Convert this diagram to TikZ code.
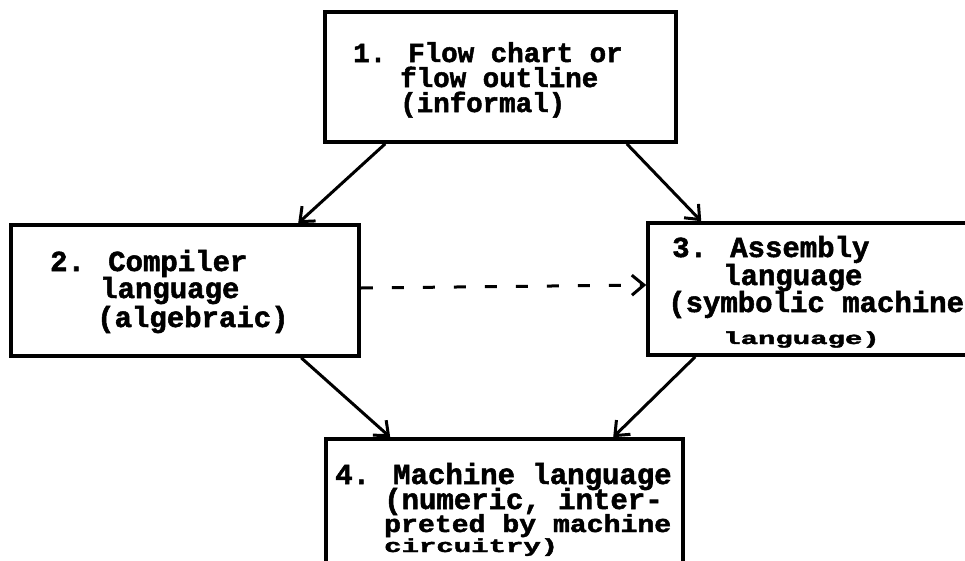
\documentclass[tikz,border=0pt]{standalone}
\usepackage{fontspec}
\newfontfamily\tw[FakeBold=1.8]{Liberation Mono}
\usetikzlibrary{arrows.meta,calc}
\begin{document}
\begin{tikzpicture}[x=1pt,y=-1pt,
  box/.style={draw=black, line width=3.6pt, rectangle, inner sep=0pt},
  txt/.style={anchor=base west, inner sep=0pt, text=black},
  conn/.style={draw=black, line width=3pt, -{Straight Barb[length=12pt,width=20pt,line width=3pt]}},
  dashconn/.style={conn, dash pattern=on 12pt off 19pt}]
\useasboundingbox (0,0) rectangle (965,560);
\clip (0,0) rectangle (965,560);
\fill[white] (0,0) rectangle (965,560);
% boxes
\node[box, minimum width=351pt, minimum height=130pt] (b1) at (500.5,77) {};
\node[box, minimum width=348pt, minimum height=131pt] (b2) at (185,290.5) {};
\node[box, minimum width=342pt, minimum height=132pt] (b3) at (819,289) {};
\node[box, minimum width=357pt, minimum height=161pt] (b4) at (504.5,519.5) {};
% box 1 text
\begin{scope}[every node/.append style={font=\tw\bfseries\fontsize{27.5}{27.5}\selectfont}]
\node[txt] (t1a) at (353,62) {1. Flow chart or};
\node[txt] (t1b) at (400,87) {flow outline};
\node[txt] (t1c) at (400,112) {(informal)};
\end{scope}
% box 2 text
\begin{scope}[every node/.append style={font=\tw\bfseries\fontsize{29}{29}\selectfont}]
\node[txt] (t2a) at (50,271) {2. Compiler};
\node[txt] (t2b) at (100,298) {language};
\node[txt] (t2c) at (97,327) {(algebraic)};
\end{scope}
% box 3 text
\begin{scope}[every node/.append style={font=\tw\bfseries\fontsize{29}{29}\selectfont}]
\node[txt] (t3a) at (672,257) {3. Assembly};
\node[txt] (t3b) at (723,285) {language};
\node[txt] (t3c) at (668,312) {(symbolic machine};
\node[txt] (t3d) at (723,344) {\scalebox{1}[0.6]{language)}};
\end{scope}
% box 4 text
\begin{scope}[every node/.append style={font=\tw\bfseries\fontsize{29}{29}\selectfont}]
\node[txt] (t4a) at (335,484) {4. Machine language};
\node[txt] (t4b) at (384,509) {(numeric, inter-};
\node[txt] (t4c) at (384,532) {\scalebox{0.97}[0.85]{preted by machine}};
\node[txt] (t4d) at (384,552) {\scalebox{1}[0.65]{circuitry)}};
\end{scope}
% connectors
\draw[conn] ([xshift=62pt]b1.south west) -- ([xshift=289pt]b2.north west);
\draw[conn] ([xshift=-51pt]b1.south east) -- ([xshift=55pt]b3.north west);
\draw[conn] ([xshift=292pt]b2.south west) -- ([xshift=66pt]b4.north west);
\draw[conn] ([xshift=49pt]b3.south west) -- ([xshift=289pt]b4.north west);
\draw[dashconn] ([yshift=2.5pt]b2.east) -- ([yshift=4pt]b3.west);
\end{tikzpicture}
\end{document}
